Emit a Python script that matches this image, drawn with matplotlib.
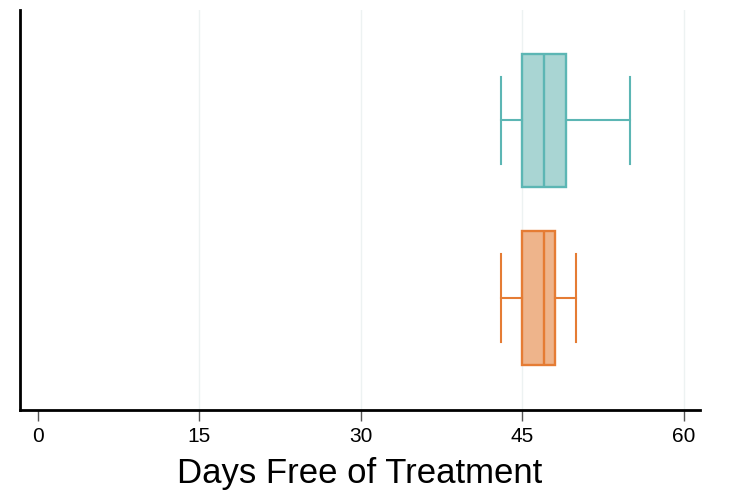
import matplotlib
matplotlib.use('Agg')

import matplotlib.pyplot as plt

# summary stats (bottom group first)
groups = ['orange', 'teal']
whislo = [43, 43]
q1 = [45, 45]
med = [47, 47]
q3 = [48, 49]
whishi = [50, 55]

face_colors = ['#eeb48b', '#a9d5d3']
edge_colors = ['#e57c34', '#5cb6b4']

xticks = [0, 15, 30, 45, 60]

stats = []
for i in range(len(groups)):
    stats.append({'whislo': whislo[i], 'q1': q1[i], 'med': med[i],
                  'q3': q3[i], 'whishi': whishi[i], 'fliers': []})

plt.rcParams['font.family'] = ['Liberation Sans', 'DejaVu Sans']

fig = plt.figure(figsize=(7.37, 5), dpi=100)
ax = fig.add_axes([0.027, 0.18, 0.923, 0.80])

bp = ax.bxp(stats, positions=[1, 2], vert=False, widths=0.75,
            patch_artist=True, showfliers=False, zorder=3)

for i in range(len(groups)):
    bp['boxes'][i].set_facecolor(face_colors[i])
    bp['boxes'][i].set_edgecolor(edge_colors[i])
    bp['boxes'][i].set_linewidth(1.7)
    bp['medians'][i].set_color(edge_colors[i])
    bp['medians'][i].set_linewidth(1.7)
    for w in bp['whiskers'][2 * i:2 * i + 2]:
        w.set_color(edge_colors[i])
        w.set_linewidth(1.5)
    for c in bp['caps'][2 * i:2 * i + 2]:
        c.set_color(edge_colors[i])
        c.set_linewidth(1.5)
        c.set_ydata([i + 1 - 0.245, i + 1 + 0.245])

ax.set_xlim(-1.67, 61.5)
ax.set_ylim(0.37, 2.62)
ax.set_xticks(xticks)
ax.set_xticklabels([str(t) for t in xticks], fontsize=15)
ax.set_yticks([])

ax.grid(axis='x', color='#edf2f2', linewidth=1, zorder=0)
ax.set_axisbelow(True)
ax.get_xgridlines()[0].set_visible(False)

ax.spines['top'].set_visible(False)
ax.spines['right'].set_visible(False)
ax.spines['left'].set_linewidth(2)
ax.spines['bottom'].set_linewidth(2)
ax.tick_params(axis='x', length=8, width=1, color='#555555', pad=4)

ax.set_xlabel('Days Free of Treatment', fontsize=25, labelpad=8)

plt.savefig('out.png')
